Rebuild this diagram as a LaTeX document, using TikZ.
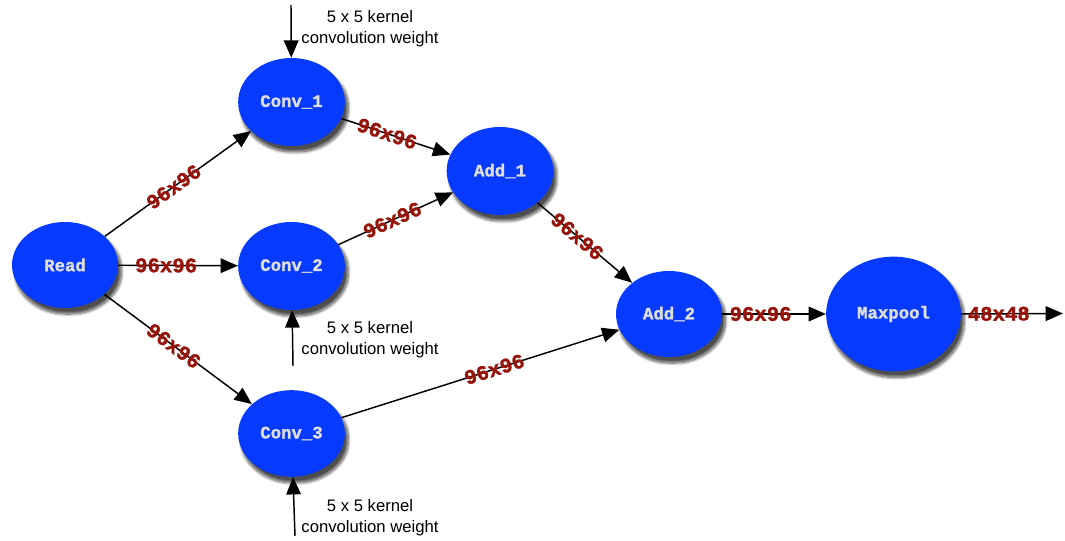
\documentclass[tikz,border=0pt]{standalone}
\usepackage{fontspec}
\setmainfont{Liberation Sans}
\newfontfamily\opfont{Liberation Mono Bold}[FakeBold=1.6]
\usetikzlibrary{arrows.meta,shadows.blur,shapes.geometric}
\definecolor{opblue}{RGB}{6,58,255}
\definecolor{dimred}{RGB}{150,20,10}
\definecolor{optext}{RGB}{222,222,222}
\tikzset{
  op/.style={ellipse, fill=opblue, text=optext,
    font=\opfont\fontsize{13}{15}\selectfont,
    blur shadow={shadow xshift=2.5pt, shadow yshift=-4.5pt, shadow blur steps=10,
      shadow blur extra rounding=2pt, shadow opacity=70},
    inner sep=0pt},
  flow/.style={line width=1.1pt, -{Triangle[length=13pt,width=11pt]}},
  dims/.style={sloped, text=dimred, inner sep=0pt,
    font=\opfont\fontsize{15.5}{17}\selectfont},
  note/.style={align=center, font=\fontsize{12.5}{15.5}\selectfont, inner sep=0pt},
}
\begin{document}
\begin{tikzpicture}[x=0.75pt, y=-0.75pt]
\useasboundingbox (0,0) rectangle (1065,541);

% operation nodes
\node[op, minimum width=79.5pt, minimum height=64.5pt] (read)  at (65,265)  {Read};
\node[op, minimum width=80pt, minimum height=66pt] (conv1) at (291.5,102) {Conv\_1};
\node[op, minimum width=80pt, minimum height=66pt] (conv2) at (291.5,266) {Conv\_2};
\node[op, minimum width=80pt, minimum height=65pt] (conv3) at (291.5,433.5) {Conv\_3};
\node[op, minimum width=80pt, minimum height=66pt] (add1)  at (500,171)  {Add\_1};
\node[op, minimum width=79.5pt, minimum height=64.5pt] (add2)  at (669,314)  {Add\_2};
\node[op, minimum width=101pt, minimum height=86pt] (pool)  at (893.5,314) {Maxpool};

% free ends of the weight inputs and the output
\coordinate (w1) at (291,5);
\coordinate (w2) at (293,366);
\coordinate (w3) at (295,536);
\coordinate (out) at (1063,313.5);

% data flow
\draw[flow] (read) -- node[dims, pos=0.47] {96x96} (conv1);
\draw[flow] (read) -- node[dims, pos=0.4] {96x96} (conv2);
\draw[flow] (read) -- node[dims, pos=0.47] {96x96} (conv3);
\draw[flow] (conv1) -- node[dims, pos=0.42] {96x96} (add1);
\draw[flow] (conv2) -- node[dims, pos=0.47] {96x96} (add1);
\draw[flow] (add1) -- node[dims, pos=0.42] {96x96} (add2);
\draw[flow] (conv3) -- node[dims, pos=0.55] {96x96} (add2);
\draw[flow] (add2) -- node[dims, pos=0.37] {96x96} (pool);
\draw[flow] (pool.east) -- node[dims, pos=0.37] {48x48} (out);

% kernel weights
\draw[flow] (w1) -- (conv1);
\draw[flow] (w2) -- (conv2);
\draw[flow] (w3) -- (conv3);
\node[note] (n1) at (370,29) {5 x 5 kernel\\convolution weight};
\node[note] (n2) at (370,339.5) {5 x 5 kernel\\convolution weight};
\node[note] (n3) at (370,517.5) {5 x 5 kernel\\convolution weight};
\end{tikzpicture}
\end{document}
